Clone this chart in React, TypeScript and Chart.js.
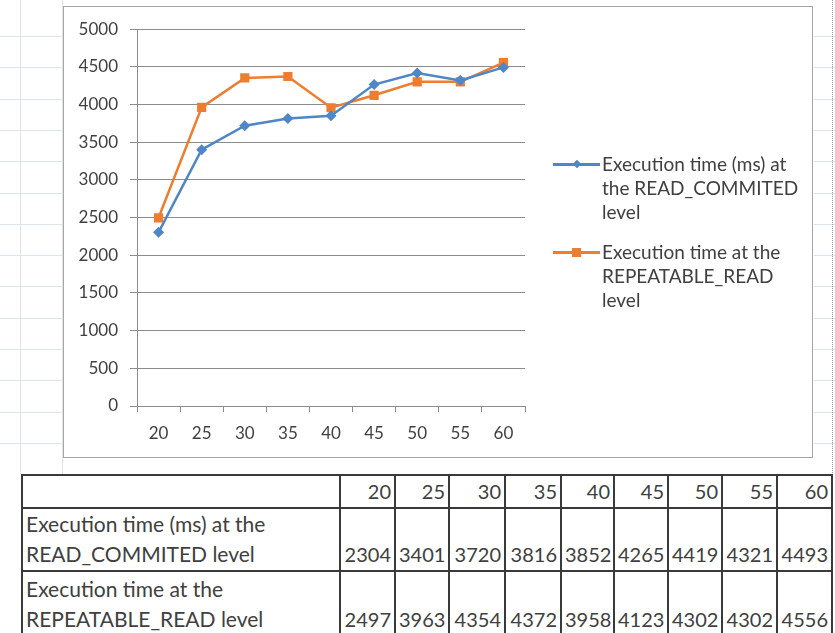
import React, { useEffect, useRef } from "react";
import { Chart, registerables } from "chart.js";

Chart.register(...registerables);

const categories = ["20", "25", "30", "35", "40", "45", "50", "55", "60"];
const readCommitted = [2304, 3401, 3720, 3816, 3852, 4265, 4419, 4321, 4493];
const repeatableRead = [2497, 3963, 4354, 4372, 3958, 4123, 4302, 4302, 4556];
const seriesNames = [
  "Execution time (ms) at the READ_COMMITED level",
  "Execution time at the REPEATABLE_READ level",
];
const legendLines = [
  ["Execution time (ms) at", "the READ_COMMITED", "level"],
  ["Execution time at the", "REPEATABLE_READ", "level"],
];
const tableRowLines = [
  ["Execution time (ms) at the", "READ_COMMITED level"],
  ["Execution time at the", "REPEATABLE_READ level"],
];
const colors = ["#4f86c6", "#ef7d2f"];

const FONT = "Lato, 'Open Sans', sans-serif";
const colWidths = [318, 55, 54, 56, 56, 53, 54, 54, 55, 55];

export default function App() {
  const ref = useRef<HTMLCanvasElement | null>(null);

  useEffect(() => {
    if (!ref.current) return;
    const chart = new Chart(ref.current, {
      type: "line",
      data: {
        labels: categories,
        datasets: [
          {
            label: seriesNames[0],
            data: readCommitted,
            borderColor: colors[0],
            backgroundColor: colors[0],
            borderWidth: 2.5,
            pointStyle: "rectRot",
            pointRadius: 5.5,
            pointBorderWidth: 0,
            tension: 0,
          },
          {
            label: seriesNames[1],
            data: repeatableRead,
            borderColor: colors[1],
            backgroundColor: colors[1],
            borderWidth: 2.5,
            pointStyle: "rect",
            pointRadius: 6.5,
            pointBorderWidth: 0,
            tension: 0,
          },
        ],
      },
      options: {
        animation: false,
        responsive: false,
        maintainAspectRatio: false,
        layout: { padding: { top: 22, right: 287, left: 0, bottom: 0 } },
        plugins: { legend: { display: false }, tooltip: { enabled: false } },
        scales: {
          x: {
            type: "category",
            offset: true,
            grid: {
              offset: true,
              drawOnChartArea: false,
              drawTicks: true,
              tickLength: 6,
              color: "#8c8c8c",
            },
            border: { display: true, color: "#8c8c8c", width: 1 },
            ticks: {
              color: "#404040",
              font: { family: FONT, size: 17 },
              padding: 11,
              maxRotation: 0,
            },
            afterFit: (s: any) => {
              s.height = 51;
            },
          },
          y: {
            min: 0,
            max: 5000,
            ticks: {
              stepSize: 500,
              color: "#404040",
              font: { family: FONT, size: 17 },
              padding: 12,
              callback: (v: any) => String(v),
            },
            grid: { color: "#8c8c8c", lineWidth: 1, tickLength: 7 },
            border: { display: true, color: "#8c8c8c", width: 1 },
            afterFit: (s: any) => {
              s.width = 73;
            },
          },
        },
      },
    });
    return () => chart.destroy();
  }, []);

  const faint = "#dfe3ea";
  const bgLines: React.ReactNode[] = [];
  for (let y = 36; y < 470; y += 31.3) {
    bgLines.push(
      <div key={"l" + y} style={{ position: "absolute", left: 0, top: y, width: 63, height: 1, background: faint }} />
    );
    bgLines.push(
      <div key={"r" + y} style={{ position: "absolute", left: 814, top: y, width: 21, height: 1, background: faint }} />
    );
  }

  const cell: React.CSSProperties = {
    border: "2px solid #3a3a3a",
    padding: "0 3px 1px 3px",
    textAlign: "right",
    verticalAlign: "bottom",
    fontFamily: FONT,
    fontSize: 20,
    color: "#404040",
    boxSizing: "border-box",
    lineHeight: "30px",
  };

  const rows = [readCommitted, repeatableRead];

  return (
    <div style={{ position: "fixed", left: 0, top: 0, width: 835, height: 633, background: "#fff", overflow: "hidden" }}>
      {bgLines}
      <div style={{ position: "absolute", left: 20, top: 0, width: 1, height: 474, background: faint }} />
      <div style={{ position: "absolute", left: 62, top: 0, width: 1, height: 474, background: faint }} />
      <div style={{ position: "absolute", left: 832, top: 0, width: 1, height: 633, borderLeft: "1px dotted #999" }} />
      <div
        style={{
          position: "absolute",
          left: 63,
          top: 6,
          width: 750,
          height: 452,
          border: "1px solid #a6a6a6",
          boxSizing: "border-box",
          background: "#fff",
        }}
      >
        <canvas ref={ref} width={748} height={450} style={{ display: "block" }} />
      </div>
      {legendLines.map((lines, i) => {
        const top = i === 0 ? 152 : 240;
        return (
          <div key={i} style={{ position: "absolute", left: 553, top, width: 260 }}>
            <div style={{ position: "absolute", left: 0, top: 11, width: 47, height: 2.5, background: colors[i] }} />
            {i === 0 ? (
              <div
                style={{
                  position: "absolute",
                  left: 21,
                  top: 9,
                  width: 6,
                  height: 6,
                  background: colors[i],
                  transform: "rotate(45deg)",
                }}
              />
            ) : (
              <div style={{ position: "absolute", left: 19, top: 8, width: 9, height: 9, background: colors[i] }} />
            )}
            <div
              style={{
                position: "absolute",
                left: 49,
                top: 0,
                fontFamily: FONT,
                fontSize: 19,
                lineHeight: "24px",
                color: "#404040",
                whiteSpace: "nowrap",
              }}
            >
              {lines.map((t, k) => (
                <div key={k}>{t}</div>
              ))}
            </div>
          </div>
        );
      })}
      <table
        style={{
          position: "absolute",
          left: 21,
          top: 474,
          borderCollapse: "collapse",
          tableLayout: "fixed",
          width: colWidths.reduce((a, b) => a + b, 0),
        }}
      >
        <colgroup>
          {colWidths.map((w, i) => (
            <col key={i} style={{ width: w }} />
          ))}
        </colgroup>
        <tbody>
          <tr style={{ height: 31 }}>
            <td style={cell}></td>
            {categories.map((c) => (
              <td key={c} style={cell}>
                {c}
              </td>
            ))}
          </tr>
          {rows.map((vals, r) => (
            <tr key={r} style={{ height: r === 0 ? 62 : 65 }}>
              <td style={{ ...cell, textAlign: "left", fontSize: 21, whiteSpace: "nowrap" }}>
                {tableRowLines[r].map((t, k) => (
                  <div key={k}>{t}</div>
                ))}
              </td>
              {vals.map((v, k) => (
                <td key={k} style={cell}>
                  {v}
                </td>
              ))}
            </tr>
          ))}
        </tbody>
      </table>
    </div>
  );
}
